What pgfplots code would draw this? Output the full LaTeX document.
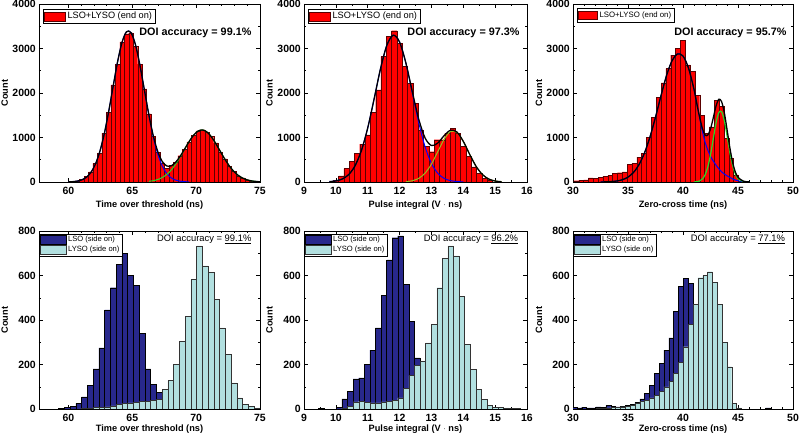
\documentclass[border=0pt]{standalone}
\usepackage{fontspec}
\setmainfont{Liberation Sans}
\usepackage{pgfplots}
\pgfplotsset{compat=1.18}

\definecolor{barred}{RGB}{255,0,0}
\definecolor{baredge}{RGB}{90,0,0}
\definecolor{lso}{RGB}{40,40,140}
\definecolor{lyso}{RGB}{178,224,224}
\definecolor{fitblue}{RGB}{0,0,255}
\definecolor{fitgreen}{RGB}{40,220,40}
\definecolor{fitolive}{RGB}{150,190,30}

\newcommand{\tk}{\bfseries\fontsize{10.5}{11}\selectfont}
\newcommand{\lb}{\bfseries\fontsize{9.2}{10}\selectfont}

\pgfplotsset{
  panel/.style={
    scale only axis, height=178pt, anchor=south west,
    tick align=inside, tick pos=both,
    major tick length=4pt, minor tick length=2pt,
    minor y tick num=1,
    every tick/.style={black, line width=0.5pt},
    axis line style={line width=0.7pt},
    ticklabel style={font=\tk, inner sep=1.5pt},
    xticklabel style={yshift=-3.5pt},
    yticklabel style={xshift=-1.5pt},
    /pgf/number format/assume math mode=true,
    /pgf/number format/1000 sep={},
    scaled ticks=false,
    xlabel style={font=\lb, inner sep=0pt, anchor=center},
    ylabel style={font=\lb, inner sep=0pt, anchor=center,
      at={(axis description cs:-0.155,0.5)}},
    ylabel=Count,
    legend cell align=left,
  },
  toprow/.style={panel, ymin=0, ymax=4000, ytick={0,1000,2000,3000,4000},
    xlabel style={at={(axis description cs:0.5,-0.128)}},
    legend style={at={(0.018,0.972)}, anchor=north west, draw=black,
      line width=0.5pt, inner sep=1pt, font=\fontsize{9.2}{10}\selectfont},
    legend image code/.code={\draw[#1] (0pt,-4.5pt) rectangle (21pt,4.5pt);}},
  botrow/.style={panel, ymin=0, ymax=800, ytick={0,200,400,600,800},
    xlabel style={at={(axis description cs:0.5,-0.115)}},
    legend style={at={(0,0.985)}, anchor=north west, draw=black,
      line width=0.5pt, inner sep=0.5pt, row sep=-1pt, font=\fontsize{7.6}{8}\selectfont},
    legend image code/.code={\draw[#1] (0pt,-4.3pt) rectangle (26pt,4.3pt);}},
  redbar/.style={ybar, bar shift=0pt, fill=barred, draw=baredge, line width=0.3pt},
  lsobar/.style={ybar, bar shift=0pt, fill=lso, draw=black, line width=0.35pt},
  lysobar/.style={ybar, bar shift=0pt, fill=lyso, draw=black!80, line width=0.35pt},
  fitk/.style={black, line width=1.3pt, smooth, no marks, forget plot},
  fitb/.style={fitblue, line width=1pt, smooth, no marks, forget plot},
  fitg/.style={fitgreen, line width=1pt, smooth, no marks, forget plot},
}

\begin{document}
\begin{tikzpicture}
\path[use as bounding box] (0,0) rectangle (800pt,436pt);

% ---------------- top left: time over threshold, end on
\begin{axis}[toprow, at={(39pt,254pt)}, width=221pt,
  xmin=57.7, xmax=75, xtick={60,65,70,75}, minor x tick num=4,
  xlabel={Time over threshold (ns)}]
\addplot[redbar, bar width=0.35] coordinates {
 (60.7,25)(61.05,60)(61.4,130)(61.75,230)(62.1,420)(62.45,650)(62.8,1100)
 (63.15,1560)(63.5,2180)(63.85,2650)(64.2,3150)(64.55,3330)(64.9,3350)(65.25,3050)
 (65.6,2650)(65.95,2090)(66.3,1530)(66.65,1030)(67.0,660)(67.35,430)(67.7,310)
 (68.05,370)(68.4,440)(68.75,590)(69.1,740)(69.45,900)(69.8,1050)(70.15,1150)
 (70.5,1170)(70.85,1110)(71.2,1020)(71.55,880)(71.9,660)(72.25,520)(72.6,350)
 (72.95,240)(73.3,140)(73.65,90)(74.0,45)(74.35,20)};
\addlegendentry{LSO+LYSO (end on)}
\addplot[fitb] coordinates {
 (60.0,3)(60.35,8)(60.7,20)(61.05,48)(61.4,104)(61.75,210)(62.1,391)(62.45,673)
 (62.8,1071)(63.15,1576)(63.5,2144)(63.85,2699)(64.2,3139)(64.55,3376)(64.9,3357)
 (65.25,3086)(65.6,2624)(65.95,2062)(66.3,1499)(66.65,1007)(67.0,625)(67.35,359)
 (67.7,191)(68.05,94)(68.4,43)(68.75,18)(69.1,7)(69.45,2)};
\addplot[fitg] coordinates {
 (66.3,15)(66.65,29)(67.0,56)(67.35,101)(67.7,170)(68.05,269)(68.4,401)(68.75,560)
 (69.1,735)(69.45,907)(69.8,1051)(70.15,1143)(70.5,1170)(70.85,1123)(71.2,1013)
 (71.55,859)(71.9,684)(72.25,512)(72.6,360)(72.95,238)(73.3,147)(73.65,86)
 (74.0,47)(74.35,24)(74.7,12)(75.0,5)};
\addplot[fitk] coordinates {
 (60.0,3)(60.35,8)(60.7,20)(61.05,48)(61.4,104)(61.75,210)(62.1,391)(62.45,673)
 (62.8,1071)(63.15,1576)(63.5,2144)(63.85,2699)(64.2,3139)(64.55,3376)(64.9,3357)
 (65.25,3086)(65.6,2624)(65.95,2069)(66.3,1514)(66.65,1036)(67.0,681)(67.35,460)
 (67.7,361)(68.05,363)(68.4,444)(68.75,578)(69.1,742)(69.45,907)(69.8,1051)
 (70.15,1143)(70.5,1170)(70.85,1123)(71.2,1013)(71.55,859)(71.9,684)(72.25,512)
 (72.6,360)(72.95,238)(73.3,147)(73.65,86)(74.0,47)(74.35,24)(74.7,12)(75.0,5)};
\node[anchor=east, font=\bfseries\fontsize{10.8}{11}\selectfont] at (rel axis cs:0.977,0.837) {DOI accuracy = 99.1\%};
\end{axis}

% ---------------- top middle: pulse integral, end on
\begin{axis}[toprow, at={(304pt,254pt)}, width=223pt,
  xmin=9, xmax=16, xtick={9,...,16}, minor x tick num=1,
  xlabel={Pulse integral (V $\cdot$ ns)}]
\addplot[redbar, bar width=0.1667] coordinates {
 (10.000,40)(10.167,140)(10.333,300)(10.500,460)(10.667,640)(10.833,850)
 (11.000,1060)(11.167,1560)(11.333,2070)(11.500,2820)(11.667,3270)(11.833,3400)
 (12.000,3120)(12.167,2600)(12.333,2220)(12.500,1770)(12.667,1170)(12.833,800)
 (13.000,680)(13.167,950)(13.333,950)(13.500,1090)(13.667,1200)(13.833,1090)
 (14.000,800)(14.167,570)(14.333,340)(14.500,195)(14.667,80)(14.833,45)};
\addlegendentry{LSO+LYSO (end on)}
\addplot[fitb] coordinates {
 (9.8,8)(10.0,24)(10.2,67)(10.4,164)(10.6,362)(10.8,703)(11.0,1214)(11.2,1864)
 (11.4,2540)(11.6,3071)(11.8,3299)(12.0,3145)(12.2,2662)(12.4,2001)(12.6,1336)
 (12.8,792)(13.0,417)(13.2,195)(13.4,81)(13.6,30)(13.8,10)(14.0,3)};
\addplot[fitolive, line width=1pt, smooth, no marks, forget plot] coordinates {
 (12.2,8)(12.4,28)(12.6,81)(12.8,198)(13.0,402)(13.2,681)(13.4,962)(13.6,1134)
 (13.8,1113)(14.0,911)(14.2,622)(14.4,354)(14.6,168)(14.8,66)(15.0,22)(15.2,6)};
\addplot[fitk] coordinates {
 (9.8,8)(10.0,24)(10.2,67)(10.4,164)(10.6,362)(10.8,703)(11.0,1214)(11.2,1864)
 (11.4,2540)(11.6,3071)(11.8,3299)(12.0,3145)(12.2,2670)(12.4,2029)(12.6,1417)
 (12.8,990)(13.0,819)(13.2,876)(13.4,1043)(13.6,1164)(13.8,1123)(14.0,914)
 (14.2,622)(14.4,354)(14.6,168)(14.8,66)(15.0,22)(15.2,6)};
\node[anchor=east, font=\bfseries\fontsize{10.8}{11}\selectfont] at (rel axis cs:0.982,0.837) {DOI accuracy = 97.3\%};
\end{axis}

% ---------------- top right: zero-cross time, end on
\begin{axis}[toprow, at={(573pt,254pt)}, width=220pt,
  xmin=30, xmax=50, xtick={30,35,...,50}, minor x tick num=4,
  xlabel={Zero-cross time (ns)},
  legend style={font=\fontsize{7.8}{8}\selectfont, at={(0.018,0.975)}},
  legend image code/.code={\draw[#1] (0pt,-4.3pt) rectangle (19pt,4.3pt);}]
\addplot[redbar, bar width=0.44] coordinates {
 (30.30,30)(30.74,35)(31.18,50)(31.62,90)(32.06,80)(32.50,110)(32.94,130)
 (33.38,150)(33.82,190)(34.26,210)(34.70,230)(35.14,400)(35.58,420)(36.02,560)
 (36.46,640)(36.90,1000)(37.34,1450)(37.78,1900)(38.22,2230)(38.66,2550)
 (39.10,2850)(39.54,3000)(39.98,3180)(40.42,2630)(40.86,2480)(41.30,1950)
 (41.74,1500)(42.18,1090)(42.62,1240)(43.06,1840)(43.50,1700)(43.94,980)
 (44.38,530)(44.82,160)(45.26,20)};
\addlegendentry{LSO+LYSO (end on)}
\addplot[fitb] coordinates {
 (32.5,1)(33.0,3)(33.5,9)(34.0,23)(34.5,52)(35.0,110)(35.5,215)(36.0,390)
 (36.5,654)(37.0,1015)(37.5,1458)(38.0,1940)(38.5,2390)(39.0,2724)(39.5,2878)
 (40.0,2830)(40.5,2560)(41.0,2080)(41.25,1760)(41.5,1450)(41.75,1150)(42.0,900)
 (42.25,720)(42.5,580)(42.75,470)(43.0,380)(43.25,300)(43.5,230)(43.75,180)
 (44.0,140)(44.25,105)(44.5,70)(44.75,45)(45.0,28)(45.5,8)(46.0,2)};
\addplot[fitg, line width=1.2pt] coordinates {
 (41.0,2)(41.25,7)(41.5,22)(41.75,64)(42.0,157)(42.25,335)(42.5,613)(42.75,970)
 (43.0,1324)(43.25,1558)(43.5,1581)(43.75,1384)(44.0,1045)(44.25,680)(44.5,382)
 (44.75,185)(45.0,77)(45.5,9)(46.0,1)};
\addplot[fitk] coordinates {
 (32.5,1)(33.0,3)(33.5,9)(34.0,23)(34.5,52)(35.0,110)(35.5,215)(36.0,390)
 (36.5,654)(37.0,1015)(37.5,1458)(38.0,1940)(38.5,2390)(39.0,2724)(39.5,2878)
 (40.0,2830)(40.5,2560)(41.0,2082)(41.25,1767)(41.5,1472)(41.75,1214)(42.0,1057)
 (42.25,1055)(42.5,1193)(42.75,1440)(43.0,1704)(43.25,1858)(43.5,1811)
 (43.75,1564)(44.0,1185)(44.25,785)(44.5,452)(44.75,230)(45.0,105)(45.5,17)(46.0,3)};
\node[anchor=east, font=\bfseries\fontsize{10.8}{11}\selectfont] at (rel axis cs:0.986,0.837) {DOI accuracy = 95.7\%};
\end{axis}

% ---------------- bottom left: time over threshold, side on
\begin{axis}[botrow, at={(39pt,27pt)}, width=221pt,
  xmin=57.7, xmax=75, xtick={60,65,70,75}, minor x tick num=4,
  xlabel={Time over threshold (ns)}]
\addplot[lsobar, bar width=0.45] coordinates {
 (59.46,3)(59.91,6)(60.36,12)(60.81,25)(61.26,55)(61.71,105)(62.16,180)
 (62.61,275)(63.06,445)(63.51,545)(63.96,650)(64.41,700)(64.86,600)(65.31,555)
 (65.76,340)(66.21,180)(66.66,110)(67.11,75)(67.56,30)(68.01,10)};
\addlegendentry{LSO (side on)}
\addplot[lysobar, bar width=0.45] coordinates {
 (61.26,2)(61.71,4)(62.16,6)(62.61,8)(63.06,10)(63.51,14)(63.96,20)(64.41,25)
 (64.86,27)(65.31,30)(65.76,33)(66.21,35)(66.66,38)(67.11,42)(67.56,87)
 (68.01,128)(68.46,200)(68.91,305)(69.36,417)(69.81,583)(70.26,733)(70.71,643)
 (71.16,613)(71.61,492)(72.06,365)(72.51,245)(72.96,117)(73.41,50)(73.86,20)
 (74.31,12)(74.76,5)};
\addlegendentry{LYSO (side on)}
\node[anchor=east, font=\fontsize{9.4}{10}\selectfont] at (rel axis cs:0.977,0.951) {DOI accuracy = \underline{99.1\%}};
\end{axis}

% ---------------- bottom middle: pulse integral, side on
\begin{axis}[botrow, at={(304pt,27pt)}, width=223pt,
  xmin=9, xmax=16, xtick={9,...,16}, minor x tick num=1,
  xlabel={Pulse integral (V $\cdot$ ns)}]
\addplot[lsobar, bar width=0.175] coordinates {
 (9.53,4)(10.105,8)(10.28,45)(10.455,80)(10.63,135)(10.805,140)(10.98,200)
 (11.155,265)(11.33,365)(11.505,510)(11.68,670)(11.855,770)(12.03,778)
 (12.205,560)(12.38,395)(12.555,230)(12.73,120)(12.905,60)(13.08,20)};
\addlegendentry{LSO (side on)}
\addplot[lysobar, bar width=0.175] coordinates {
 (10.28,4)(10.455,12)(10.63,32)(10.805,35)(10.98,30)(11.155,28)(11.33,28)
 (11.505,32)(11.68,35)(11.855,38)(12.03,50)(12.205,92)(12.38,150)(12.555,195)
 (12.73,215)(12.905,297)(13.08,380)(13.255,545)(13.43,677)(13.605,733)
 (13.78,688)(13.955,507)(14.13,290)(14.305,177)(14.48,87)(14.655,42)(14.83,17)
 (15.005,8)(15.18,6)(15.355,5)(15.53,4)(15.705,3)};
\addlegendentry{LYSO (side on)}
\node[anchor=east, font=\fontsize{9.4}{10}\selectfont] at (rel axis cs:0.976,0.951) {DOI accuracy = \underline{96.2\%}};
\end{axis}

% ---------------- bottom right: zero-cross time, side on
\begin{axis}[botrow, at={(573pt,27pt)}, width=220pt,
  xmin=30, xmax=50, xtick={30,35,...,50}, minor x tick num=4,
  xlabel={Zero-cross time (ns)}]
\addplot[lsobar, bar width=0.44] coordinates {
 (30.13,8)(30.57,5)(31.01,8)(31.45,5)(31.89,5)(32.33,10)(32.77,8)(33.21,15)
 (33.65,12)(34.09,10)(34.53,12)(34.97,15)(35.41,20)(35.85,30)(36.29,45)
 (36.73,70)(37.17,105)(37.61,160)(38.05,205)(38.49,265)(38.93,320)(39.37,440)
 (39.81,550)(40.25,587)(40.69,565)(41.13,300)(41.57,200)(42.01,100)(42.45,40)
 (42.89,10)(47.73,5)};
\addlegendentry{LSO (side on)}
\addplot[lysobar, bar width=0.44] coordinates {
 (32.33,3)(32.77,4)(33.21,5)(33.65,6)(34.09,8)(34.53,10)(34.97,12)(35.41,15)
 (35.85,25)(36.29,35)(36.73,40)(37.17,50)(37.61,60)(38.05,80)(38.49,100)
 (38.93,125)(39.37,160)(39.81,210)(40.25,280)(40.69,380)(41.13,470)(41.57,590)
 (42.01,600)(42.45,617)(42.89,570)(43.33,470)(43.77,300)(44.21,190)(44.65,25)
 (45.09,5)};
\addlegendentry{LYSO (side on)}
\node[anchor=east, font=\fontsize{9.4}{10}\selectfont] at (rel axis cs:0.98,0.951) {DOI accuracy = \underline{77.1\%}};
\end{axis}
\end{tikzpicture}
\end{document}
